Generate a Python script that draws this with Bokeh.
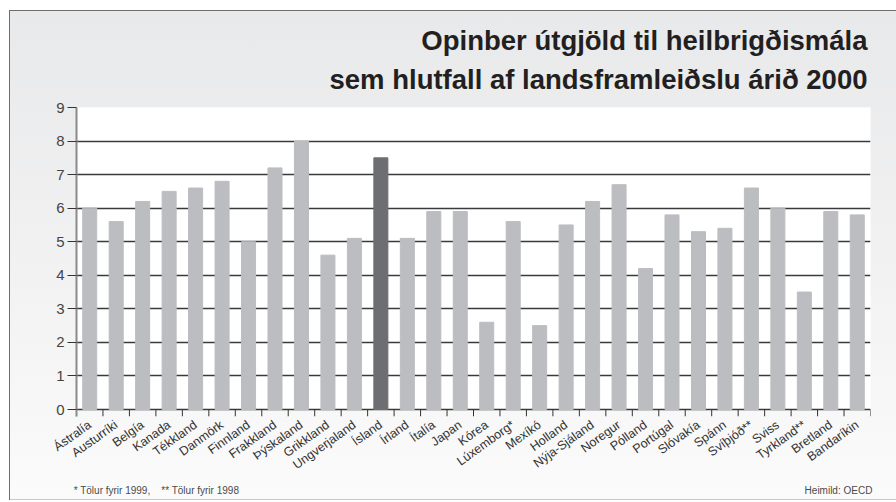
import math
from bokeh.plotting import figure
from bokeh.models import (ColumnDataSource, LinearAxis, FixedTicker, Range1d, Title)
from bokeh.embed import file_html
from bokeh.resources import INLINE

countries = ["Ástralía", "Austurríki", "Belgía", "Kanada", "Tékkland", "Danmörk",
             "Finnland", "Frakkland", "Þýskaland", "Grikkland", "Ungverjaland", "Ísland",
             "Írland", "Ítalía", "Japan", "Kórea", "Lúxemborg*", "Mexíkó", "Holland",
             "Nýja-Sjáland", "Noregur", "Pólland", "Portúgal", "Slóvakía", "Spánn",
             "Svíþjóð**", "Sviss", "Tyrkland**", "Bretland", "Bandaríkin"]
values = [6.0, 5.6, 6.2, 6.5, 6.6, 6.8, 5.0, 7.2, 8.0, 4.6, 5.1, 7.5,
          5.1, 5.9, 5.9, 2.6, 5.6, 2.5, 5.5, 6.2, 6.7, 4.2, 5.8, 5.3, 5.4,
          6.6, 6.0, 3.5, 5.9, 5.8]
highlight = "Ísland"
y_ticks = [0, 1, 2, 3, 4, 5, 6, 7, 8, 9]
title_lines = ["Opinber útgjöld til heilbrigðismála",
               "sem hlutfall af landsframleiðslu árið 2000"]
footnote = "* Tölur fyrir 1999,\u00a0\u00a0\u00a0\u00a0** Tölur fyrir 1998"
source_note = "Heimild: OECD"

NARROW = "Liberation Sans Narrow, Liberation Sans"

W, H = 896, 502
FL, FR, FT, FB = 76, 870, 107, 416      # frame edges on the page
ZERO_Y = 409                             # y of value 0 on the page
px_per_unit = (ZERO_Y - FT) / 9.0
ext = (FB - ZERO_Y) / px_per_unit        # range extension below zero for tick marks

n = len(countries)
xs = [i + 0.5 for i in range(n)]
bounds = list(range(n + 1))
colors = ["#6d6e71" if c == highlight else "#bcbdc1" for c in countries]
src = ColumnDataSource(dict(x=xs, top=values, color=colors))

p = figure(width=W, height=H, output_backend="svg", toolbar_location=None,
           x_range=Range1d(0, n), y_range=Range1d(-ext, 9),
           x_axis_location=None, y_axis_location=None,
           min_border_left=FL, min_border_right=W - FR, min_border_top=FT,
           min_border_bottom=H - FB)
p.frame_width = FR - FL
p.frame_height = FB - FT
p.border_fill_alpha = 0
p.background_fill_alpha = 0
p.outline_line_color = None
p.styles = {
    "background": (
        "linear-gradient(#6e6e6e,#6e6e6e) 9px 10px / 100% 1px no-repeat,"
        "linear-gradient(#6e6e6e,#6e6e6e) 9px 10px / 1px 490px no-repeat,"
        "linear-gradient(#c9c9c9,#c9c9c9) 9px 499px / 100% 1px no-repeat,"
        "linear-gradient(to bottom, #e8e9ea, #f2f2f3 55%, #fbfbfb) 10px 11px / 100% 488px no-repeat"
    )
}

# white plotting area from 0 to 9
p.quad(left=[0], right=[n], bottom=[0], top=[9], color="white", level="underlay")

p.vbar(x="x", top="top", width=0.53, bottom=0, color="color", source=src)

# tick marks between categories
p.segment(x0=bounds, y0=[-ext] * len(bounds), x1=bounds, y1=[0] * len(bounds),
          line_color="#333333", line_width=1)

# y axis
yax = LinearAxis(ticker=FixedTicker(ticks=y_ticks))
yax.axis_line_color = "#8a8a8a"
yax.axis_line_width = 2
yax.major_tick_out = 9
yax.major_tick_in = 0
yax.major_tick_line_color = "#333333"
yax.minor_tick_line_color = None
yax.major_label_text_font = NARROW
yax.major_label_text_font_size = "15px"
yax.major_label_text_color = "#444444"
yax.major_label_standoff = 3
p.add_layout(yax, "left")

# x axis labels at category centers
lab = LinearAxis(ticker=FixedTicker(ticks=xs),
                 major_label_overrides={x: c for x, c in zip(xs, countries)})
lab.axis_line_color = None
lab.major_tick_line_color = None
lab.minor_tick_line_color = None
lab.major_label_orientation = 0.62
lab.major_label_text_font = NARROW
lab.major_label_text_font_size = "12.5px"
lab.major_label_text_color = "#333333"
lab.major_label_standoff = 1
p.add_layout(lab, "below")

# footnote row (left note and source note on one line, centred on page positions)
note_centers_px = [156, 838]
note_pos = [(c - FL) / (FR - FL) * n for c in note_centers_px]
notes = LinearAxis(ticker=FixedTicker(ticks=note_pos),
                   major_label_overrides={note_pos[0]: footnote, note_pos[1]: source_note})
notes.axis_line_color = None
notes.major_tick_line_color = None
notes.minor_tick_line_color = None
notes.major_label_text_font = "Liberation Sans"
notes.major_label_text_font_size = "10px"
notes.major_label_text_color = "#4a4a4a"
notes.major_label_standoff = -2
p.add_layout(notes, "below")

p.xgrid.grid_line_color = None
p.ygrid.ticker = FixedTicker(ticks=y_ticks)
p.ygrid.grid_line_color = "#3a3a3a"
p.ygrid.grid_line_width = 1.3

# title: second line first (closest to the frame), then the first line above it
t2 = Title(text=title_lines[1], align="right", offset=3, standoff=22,
           vertical_align="top", text_font="Liberation Sans", text_font_style="bold",
           text_font_size="27.5px", text_color="#231f20")
t1 = Title(text=title_lines[0], align="right", offset=3, standoff=-11,
           vertical_align="top", text_font="Liberation Sans", text_font_style="bold",
           text_font_size="27.5px", text_color="#231f20")
p.add_layout(t2, "above")
p.add_layout(t1, "above")

open("out.html", "w").write(file_html(p, INLINE))
